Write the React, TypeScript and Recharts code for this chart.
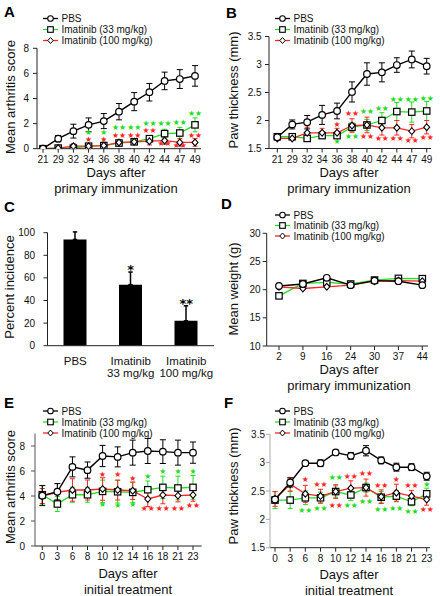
import React from "react";
import { LineChart, Line, XAxis, YAxis, ErrorBar, ComposedChart, Bar } from "recharts";

const FONT = '"Liberation Sans", Arial, Helvetica, sans-serif';
const GREEN = "#22dd22";
const RED = "#ff2626";

const seriesNames = ["PBS", "Imatinib (33 mg/kg)", "Imatinib (100 mg/kg)"];

// A: mean arthritis score, days after primary immunization
const aDays = ["21", "29", "32", "34", "36", "38", "40", "42", "44", "47", "49"];
const aPbs = [0, 0.8, 1.4, 1.9, 2.2, 2.95, 3.75, 4.5, 5.4, 5.55, 5.8];
const aPbsErr = [0, 0.25, 0.55, 0.55, 0.6, 0.65, 0.72, 0.7, 0.7, 0.75, 0.82];
const aLow = [0, 0.05, 0.05, 0.2, 0.25, 0.45, 0.55, 0.8, 1.2, 1.25, 1.9];
const aLowErr = [0, 0, 0, 0.1, 0.1, 0.15, 0.2, 0.25, 0.35, 0.45, 0.55];
const aHigh = [0, 0.05, 0.2, 0.2, 0.25, 0.5, 0.55, 0.6, 0.65, 0.5, 0.5];
const aHighErr = [0, 0, 0.2, 0.2, 0.2, 0.2, 0.2, 0.3, 0.3, 0.3, 0.3];
const aLowStars = ["", "", "", "*", "*", "**", "**", "**", "**", "**", "**"];
const aLowStarAt = [null, null, null, 1.32, 1.32, 1.68, 1.72, 2.0, 2.0, 2.1, 2.8];
const aHighStars = ["", "", "", "*", "*", "**", "**", "**", "**", "**", "**"];
const aHighStarAt = [null, null, null, 0.74, 0.74, 1.04, 1.08, 1.45, 0.38, 0.28, 1.07];

// B: paw thickness, days after primary immunization
const bDays = aDays;
const bPbs = [1.7, 1.93, 1.97, 2.1, 2.17, 2.51, 2.83, 2.86, 2.99, 3.09, 2.97];
const bPbsErr = [0.02, 0.08, 0.12, 0.17, 0.14, 0.18, 0.2, 0.17, 0.13, 0.15, 0.14];
const bLow = [1.71, 1.71, 1.68, 1.73, 1.73, 1.88, 1.92, 2.0, 2.16, 2.15, 2.17];
const bLowErr = [0.01, 0.01, 0.01, 0.02, 0.04, 0.08, 0.1, 0.14, 0.16, 0.18, 0.17];
const bHigh = [1.68, 1.68, 1.78, 1.78, 1.78, 1.91, 1.92, 1.87, 1.87, 1.81, 1.88];
const bHighErr = [0.01, 0.01, 0.1, 0.08, 0.08, 0.12, 0.14, 0.13, 0.13, 0.12, 0.12];
const bLowStars = ["", "", "", "", "*", "**", "**", "**", "**", "**", "**"];
const bLowStarAt = [null, null, null, null, 1.62, 1.71, 2.16, 2.22, 2.37, 2.37, 2.4];
const bHighStars = ["", "", "", "", "*", "**", "**", "**", "**", "**", "**"];
const bHighStarAt = [null, null, null, null, 1.93, 2.12, 1.71, 1.68, 1.68, 1.65, 1.7];

// C: percent incidence
const cLine1 = ["PBS", "Imatinib", "Imatinib"];
const cLine2 = ["", "33 mg/kg", "100 mg/kg"];
const cIncidence = [94, 54, 22];
const cErr = [6.7, 11.2, 13.3];
const cStars = ["", "*", "**"];
const cStarAt = [null, 70, 40];

// D: mean weight
const dDays = ["2", "9", "16", "24", "30", "37", "44"];
const dPbs = [20.65, 21.0, 22.1, 20.8, 21.6, 21.5, 20.8];
const dLow = [18.9, 21.1, 21.3, 21.0, 21.7, 22.0, 21.95];
const dHigh = [20.5, 20.2, 20.5, 20.8, 21.5, 21.6, 21.5];

// E: mean arthritis score, days after initial treatment
const eDays = ["0", "3", "6", "8", "10", "12", "14", "16", "18", "21", "23"];
const ePbs = [4.03, 4.34, 6.33, 6.07, 7.2, 7.13, 7.47, 7.6, 7.55, 7.47, 7.47];
const ePbsErr = [0.8, 0.65, 0.8, 0.65, 0.85, 0.8, 1.0, 1.0, 0.95, 1.0, 0.85];
const eLow = [4.1, 3.36, 4.1, 4.1, 4.37, 4.34, 4.29, 4.5, 4.69, 4.64, 4.69];
const eLowErr = [0.75, 0.6, 0.6, 0.6, 0.9, 0.9, 0.8, 0.7, 0.9, 0.95, 0.95];
const eHigh = [4.0, 4.3, 4.48, 4.48, 4.56, 4.48, 4.42, 3.76, 4.08, 4.03, 4.08];
const eHighErr = [0.6, 0.7, 0.9, 0.8, 0.9, 0.8, 0.7, 0.6, 0.7, 0.5, 0.5];
const eLowStars = ["", "", "", "", "*", "*", "*", "*", "*", "*", "*"];
const eLowStarAt = [null, null, null, null, 3.36, 3.28, 3.3, 5.54, 5.96, 5.96, 5.96];
const eHighStars = ["", "", "", "", "*", "*", "*", "**", "**", "**", "**"];
const eHighStarAt = [null, null, null, null, 5.7, 5.7, 5.4, 2.97, 2.97, 2.97, 3.23];

// F: paw thickness, days after initial treatment
const fDays = eDays;
const fPbs = [2.35, 2.65, 2.99, 2.99, 3.18, 3.12, 3.21, 3.04, 2.92, 2.92, 2.76];
const fPbsErr = [0.03, 0.08, 0.04, 0.06, 0.04, 0.06, 0.09, 0.06, 0.07, 0.06, 0.07];
const fLow = [2.34, 2.34, 2.38, 2.38, 2.49, 2.43, 2.56, 2.39, 2.41, 2.31, 2.45];
const fLowErr = [0.15, 0.15, 0.12, 0.1, 0.1, 0.1, 0.08, 0.1, 0.1, 0.07, 0.1];
const fHigh = [2.36, 2.62, 2.45, 2.41, 2.49, 2.55, 2.56, 2.4, 2.47, 2.41, 2.35];
const fHighErr = [0.13, 0.12, 0.15, 0.12, 0.12, 0.13, 0.15, 0.12, 0.15, 0.1, 0.1];
const fLowStars = ["", "", "**", "**", "**", "**", "**", "**", "**", "**", "*"];
const fLowStarAt = [null, null, 2.15, 2.19, 2.74, 2.24, 2.32, 2.18, 2.2, 2.13, 2.62];
const fHighStars = ["", "", "*", "**", "**", "**", "**", "**", "*", "**", "**"];
const fHighStarAt = [null, null, 2.7, 2.62, 2.25, 2.76, 2.8, 2.6, 2.7, 2.6, 2.18];

const tickStyle = { fontSize: 10, fill: "#111", fontFamily: FONT };

const gone = (p: any) => p.cy == null || p.cx == null || isNaN(p.cy);

const circleDot = (p: any) =>
  gone(p) ? <g key={`c${p.index}`} /> : (
    <circle key={`c${p.index}`} cx={p.cx} cy={p.cy} r={3.3} fill="#fff" stroke="#000" strokeWidth={1.2} />
  );

const squareDot = (p: any) =>
  gone(p) ? <g key={`q${p.index}`} /> : (
    <rect key={`q${p.index}`} x={p.cx - 3.2} y={p.cy - 3.2} width={6.4} height={6.4} fill="#fff" stroke="#000" strokeWidth={1.2} />
  );

const diamondDot = (p: any) =>
  gone(p) ? <g key={`d${p.index}`} /> : (
    <path
      key={`d${p.index}`}
      d={`M${p.cx},${p.cy - 3.4}L${p.cx + 3},${p.cy}L${p.cx},${p.cy + 3.4}L${p.cx - 3},${p.cy}Z`}
      fill="#fff"
      stroke="#000"
      strokeWidth={1.1}
    />
  );

// significance marks, one star glyph per asterisk
const starDot = (color: string, textKey: string) => (p: any) => {
  const t = p.payload ? p.payload[textKey] : "";
  if (!t || gone(p)) return <g key={`s${p.index}`} />;
  return (
    <text key={`s${p.index}`} x={p.cx} y={p.cy} textAnchor="middle" dominantBaseline="central" fontSize={7.8} fontFamily="DejaVu Sans" fill={color}>
      {"★".repeat(t.length)}
    </text>
  );
};

type Box = { axisX: number; top: number; bottom: number; first: number; last: number; right: number };

function LinePanel(props: any) {
  const { left, top, days, pbs, pbsErr, low, lowErr, high, highErr, lowStars, lowStarAt, highStars, highStarAt, domain, ticks, yGap, yAxisColor } = props;
  const box: Box = props.box;
  const rows = days.map((d: string, i: number) => ({
    day: d,
    pbs: pbs[i],
    pbsErr: pbsErr ? pbsErr[i] : 0,
    low: low[i],
    lowErr: lowErr ? lowErr[i] : 0,
    high: high[i],
    highErr: highErr ? highErr[i] : 0,
    lowStar: lowStarAt ? lowStarAt[i] : null,
    lowStarText: lowStars ? lowStars[i] : "",
    highStar: highStarAt ? highStarAt[i] : null,
    highStarText: highStars ? highStars[i] : "",
  }));
  return (
    <div style={{ position: "absolute", left, top }}>
      <LineChart width={220} height={200} data={rows} margin={{ top: box.top, right: 220 - box.right, bottom: 0, left: 0 }}>
        <XAxis
          dataKey="day"
          height={200 - box.bottom}
          padding={{ left: box.first - box.axisX, right: box.right - box.last }}
          interval={0}
          tickSize={4}
          tickMargin={3}
          tick={tickStyle}
          stroke="#222"
        />
        <YAxis
          type="number"
          width={box.axisX}
          domain={domain}
          ticks={ticks}
          allowDataOverflow
          tickSize={4}
          tickMargin={yGap}
          tick={tickStyle}
          stroke={yAxisColor || "#222"}
        />
        {lowStarAt && (
          <Line dataKey="lowStar" stroke="none" dot={starDot(GREEN, "lowStarText")} activeDot={false} isAnimationActive={false} />
        )}
        {highStarAt && (
          <Line dataKey="highStar" stroke="none" dot={starDot(RED, "highStarText")} activeDot={false} isAnimationActive={false} />
        )}
        <Line dataKey="low" stroke={GREEN} strokeWidth={1.3} dot={squareDot} activeDot={false} isAnimationActive={false}>
          {lowErr && <ErrorBar dataKey="lowErr" width={2.5} stroke={GREEN} strokeWidth={1} />}
        </Line>
        <Line dataKey="high" stroke={RED} strokeWidth={1.3} dot={diamondDot} activeDot={false} isAnimationActive={false}>
          {highErr && <ErrorBar dataKey="highErr" width={2.5} stroke={RED} strokeWidth={1} />}
        </Line>
        <Line dataKey="pbs" stroke="#000" strokeWidth={1.4} dot={circleDot} activeDot={false} isAnimationActive={false}>
          {pbsErr && <ErrorBar dataKey="pbsErr" width={3} stroke="#000" strokeWidth={1} />}
        </Line>
      </LineChart>
    </div>
  );
}

function CTick(p: any) {
  const i = p.payload ? p.payload.index : p.index;
  return (
    <g fontFamily={FONT} fontSize={11.5} fill="#111">
      <text x={p.x} y={p.y + 15} textAnchor="middle" dominantBaseline="central">{cLine1[i]}</text>
      <text x={p.x} y={p.y + 27.5} textAnchor="middle" dominantBaseline="central">{cLine2[i]}</text>
    </g>
  );
}

const cStarDot = (p: any) => {
  const t = p.payload ? p.payload.starText : "";
  if (!t || gone(p)) return <g key={`cs${p.index}`} />;
  return (
    <text key={`cs${p.index}`} x={p.cx} y={p.cy + 7} textAnchor="middle" fontSize={13} fontWeight="bold" fontFamily="DejaVu Sans" fill="#000">
      {t}
    </text>
  );
};

function IncidencePanel() {
  const rows = cLine1.map((n, i) => ({
    name: `${n} ${cLine2[i]}`.trim(),
    val: cIncidence[i],
    err: [0, cErr[i]],
    star: cStarAt[i],
    starText: cStars[i],
  }));
  return (
    <div style={{ position: "absolute", left: 0, top: 200 }}>
      <ComposedChart width={220} height={200} data={rows} margin={{ top: 32.7, right: 6, bottom: 0, left: 0 }}>
        <XAxis dataKey="name" height={54.3} interval={0} tickLine={false} tickSize={0} tickMargin={0} tick={<CTick />} stroke="#222" />
        <YAxis type="number" width={47.5} domain={[0, 100]} ticks={[0, 20, 40, 60, 80, 100]} allowDataOverflow tickSize={4} tickMargin={8.5} tick={tickStyle} stroke="#222" />
        <Bar dataKey="val" fill="#000" barSize={23} isAnimationActive={false}>
          <ErrorBar dataKey="err" width={2.2} stroke="#000" strokeWidth={1.5} direction="y" />
        </Bar>
        <Line dataKey="star" stroke="none" dot={cStarDot} activeDot={false} isAnimationActive={false} />
      </ComposedChart>
    </div>
  );
}

function Legend3({ x, ys }: { x: number; ys: number[] }) {
  const colors = ["#000", GREEN, RED];
  return (
    <g fontFamily={FONT} fontSize={10} fill="#111">
      {ys.map((y, i) => (
        <g key={i}>
          <line x1={x} x2={x + 15} y1={y} y2={y} stroke={colors[i]} strokeWidth={1.3} />
          {i === 0 && <circle cx={x + 7.5} cy={y} r={2.8} fill="#fff" stroke="#000" strokeWidth={1.1} />}
          {i === 1 && <rect x={x + 4.7} y={y - 2.8} width={5.6} height={5.6} fill="#fff" stroke="#000" strokeWidth={1.1} />}
          {i === 2 && (
            <path d={`M${x + 7.5},${y - 3}L${x + 10.2},${y}L${x + 7.5},${y + 3}L${x + 4.8},${y}Z`} fill="#fff" stroke="#000" strokeWidth={1} />
          )}
          <text x={x + 18.5} y={y} dominantBaseline="central">{seriesNames[i]}</text>
        </g>
      ))}
    </g>
  );
}

function YTitle({ x, y, text }: { x: number; y: number; text: string }) {
  return (
    <text x={x} y={y} transform={`rotate(-90 ${x} ${y})`} textAnchor="middle" dominantBaseline="central" fontSize={13} fontFamily={FONT} fill="#111">
      {text}
    </text>
  );
}

function XTitle({ x, y, lines }: { x: number; y: number; lines: string[] }) {
  return (
    <g fontSize={13} fontFamily={FONT} fill="#111" textAnchor="middle">
      <text x={x} y={y} dominantBaseline="central">{lines[0]}</text>
      <text x={x} y={y + 16} dominantBaseline="central">{lines[1]}</text>
    </g>
  );
}

const Letter = ({ x, y, t }: { x: number; y: number; t: string }) => (
  <text x={x} y={y} fontSize={15} fontWeight={900} fontFamily={FONT} fill="#000">{t}</text>
);

export default function App() {
  const legendRows = (y0: number) => [y0, y0 + 11, y0 + 22];
  return (
    <div style={{ position: "absolute", left: 0, top: 0, width: 440, height: 596, background: "#fff", overflow: "hidden" }}>
      <LinePanel
        left={0}
        top={0}
        days={aDays}
        pbs={aPbs}
        pbsErr={aPbsErr}
        low={aLow}
        lowErr={aLowErr}
        high={aHigh}
        highErr={aHighErr}
        lowStars={aLowStars}
        lowStarAt={aLowStarAt}
        highStars={aHighStars}
        highStarAt={aHighStarAt}
        domain={[0, 8]}
        ticks={[0, 2, 4, 6, 8]}
        yGap={4}
        box={{ axisX: 37, top: 48.3, bottom: 148.7, first: 43, last: 195, right: 201 }}
      />
      <LinePanel
        left={220}
        top={0}
        days={bDays}
        pbs={bPbs}
        pbsErr={bPbsErr}
        low={bLow}
        lowErr={bLowErr}
        high={bHigh}
        highErr={bHighErr}
        lowStars={bLowStars}
        lowStarAt={bLowStarAt}
        highStars={bHighStars}
        highStarAt={bHighStarAt}
        domain={[1.5, 3.5]}
        ticks={[1.5, 2, 2.5, 3, 3.5]}
        yGap={3.3}
        box={{ axisX: 49, top: 36.5, bottom: 148.5, first: 57.3, last: 206.7, right: 211 }}
      />
      <IncidencePanel />
      <LinePanel
        left={220}
        top={200}
        days={dDays}
        pbs={dPbs}
        low={dLow}
        high={dHigh}
        domain={[10, 30]}
        ticks={[10, 15, 20, 25, 30]}
        yGap={2}
        box={{ axisX: 46.7, top: 33.3, bottom: 146, first: 59, last: 202.3, right: 208 }}
      />
      <LinePanel
        left={0}
        top={396}
        days={eDays}
        pbs={ePbs}
        pbsErr={ePbsErr}
        low={eLow}
        lowErr={eLowErr}
        high={eHigh}
        highErr={eHighErr}
        lowStars={eLowStars}
        lowStarAt={eLowStarAt}
        highStars={eHighStars}
        highStarAt={eHighStarAt}
        domain={[0, 9]}
        ticks={[0, 2, 4, 6, 8]}
        yGap={6}
        yAxisColor="#555"
        box={{ axisX: 35, top: 37.5, bottom: 150, first: 42.3, last: 193, right: 201.7 }}
      />
      <LinePanel
        left={220}
        top={396}
        days={fDays}
        pbs={fPbs}
        pbsErr={fPbsErr}
        low={fLow}
        lowErr={fLowErr}
        high={fHigh}
        highErr={fHighErr}
        lowStars={fLowStars}
        lowStarAt={fLowStarAt}
        highStars={fHighStars}
        highStarAt={fHighStarAt}
        domain={[1.5, 3.5]}
        ticks={[1.5, 2, 2.5, 3, 3.5]}
        yGap={1}
        yAxisColor="#aaa"
        box={{ axisX: 50, top: 38.3, bottom: 151.7, first: 55, last: 206.7, right: 210 }}
      />
      <svg width={440} height={596} style={{ position: "absolute", left: 0, top: 0, pointerEvents: "none" }}>
        <Letter x={4} y={17} t="A" />
        <Letter x={226} y={18} t="B" />
        <Letter x={4} y={212} t="C" />
        <Letter x={221} y={209} t="D" />
        <Letter x={4} y={408} t="E" />
        <Letter x={224} y={408} t="F" />

        <Legend3 x={43} ys={legendRows(18.5)} />
        <Legend3 x={275} ys={legendRows(18.5)} />
        <Legend3 x={275} ys={[215, 225.5, 236]} />
        <Legend3 x={43} ys={legendRows(411)} />
        <Legend3 x={275} ys={legendRows(411)} />

        <YTitle x={10} y={97} text="Mean arthritis score" />
        <YTitle x={233} y={90} text="Paw thickness (mm)" />
        <YTitle x={9} y={287} text="Percent incidence" />
        <YTitle x={233} y={289} text="Mean weight (g)" />
        <YTitle x={10} y={487} text="Mean arthritis score" />
        <YTitle x={233} y={486} text="Paw thickness (mm)" />

        <XTitle x={116} y={172} lines={["Days after", "primary immunization"]} />
        <XTitle x={349} y={172} lines={["Days after", "primary immunization"]} />
        <XTitle x={349} y={369} lines={["Days after", "primary immunization"]} />
        <XTitle x={128} y={573} lines={["Days after", "initial treatment"]} />
        <XTitle x={349} y={574} lines={["Days after", "initial treatment"]} />
      </svg>
    </div>
  );
}
